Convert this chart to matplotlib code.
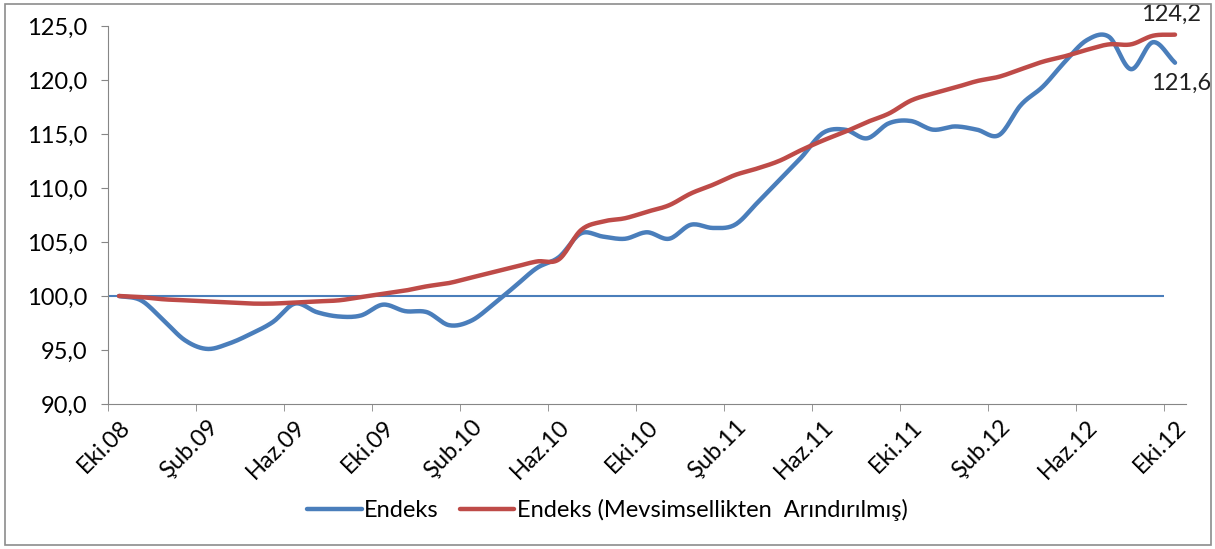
import matplotlib
matplotlib.use('Agg')
import matplotlib.pyplot as plt
from matplotlib.patches import Rectangle
import numpy as np

# monthly index values, Eki.08 .. Eki.12
endeks = [100.0, 99.6, 97.8, 95.9, 95.1, 95.6, 96.5, 97.6, 99.3, 98.5, 98.1, 98.2,
          99.2, 98.6, 98.5, 97.3, 97.7, 99.2, 100.9, 102.6, 103.6, 105.8, 105.5, 105.3,
          105.9, 105.3, 106.6, 106.3, 106.6, 108.6, 110.7, 112.8, 115.1, 115.4, 114.6, 116.0,
          116.2, 115.4, 115.7, 115.4, 114.9, 117.7, 119.4, 121.7, 123.7, 124.0, 121.0, 123.5,
          121.6]
mevsim = [100.0, 99.9, 99.7, 99.6, 99.5, 99.4, 99.3, 99.3, 99.4, 99.5, 99.6, 99.9,
          100.2, 100.5, 100.9, 101.2, 101.7, 102.2, 102.7, 103.2, 103.4, 106.1, 106.9, 107.2,
          107.8, 108.4, 109.5, 110.3, 111.2, 111.8, 112.5, 113.5, 114.4, 115.2, 116.1, 116.9,
          118.1, 118.75, 119.3, 119.9, 120.3, 121.0, 121.7, 122.2, 122.8, 123.3, 123.3, 124.1,
          124.2]
tick_labels = ['Eki.08', 'Şub.09', 'Haz.09', 'Eki.09', 'Şub.10', 'Haz.10', 'Eki.10',
               'Şub.11', 'Haz.11', 'Eki.11', 'Şub.12', 'Haz.12', 'Eki.12']
base = 100.0

plt.rcParams['font.family'] = ['Lato', 'DejaVu Sans']

blue = '#4A7EBB'
red = '#BE4B48'
grey = '#868686'
fs = 17


def smooth(y, n=16):
    # catmull-rom curve through the points, like excel's smoothed line
    y = np.asarray(y, dtype=float)
    x = np.arange(len(y), dtype=float)
    px = np.concatenate([[2 * x[0] - x[1]], x, [2 * x[-1] - x[-2]]])
    py = np.concatenate([[2 * y[0] - y[1]], y, [2 * y[-1] - y[-2]]])
    xs, ys = [], []
    t = np.linspace(0, 1, n, endpoint=False)
    for i in range(1, len(px) - 2):
        for p, out in ((px, xs), (py, ys)):
            p0, p1, p2, p3 = p[i - 1], p[i], p[i + 1], p[i + 2]
            out.append(0.5 * (2 * p1 + (-p0 + p2) * t + (2 * p0 - 5 * p1 + 4 * p2 - p3) * t ** 2
                              + (-p0 + 3 * p1 - 3 * p2 + p3) * t ** 3))
    xs.append([x[-1]])
    ys.append([y[-1]])
    return np.concatenate(xs), np.concatenate(ys)


fig = plt.figure(figsize=(12.15, 5.49), dpi=100)
fig.patches.append(Rectangle((5 / 1215, 4 / 549), 1206 / 1215, 541 / 549, transform=fig.transFigure,
                             fill=False, edgecolor='#8c8c8c', linewidth=1.2))
ax = fig.add_axes([108 / 1215, 1 - 404 / 549, (1186 - 108) / 1215, (404 - 26) / 549])

n = len(endeks)
ax.hlines(base, -0.5, n - 1.5, color=blue, linewidth=1.5, zorder=2)
sx, sy = smooth(endeks)
ax.plot(sx, sy, color=blue, linewidth=3.2, solid_capstyle='round', label='Endeks', zorder=3)
sx, sy = smooth(mevsim)
ax.plot(sx, sy, color=red, linewidth=3.2, solid_capstyle='round',
        label='Endeks (Mevsimsellikten  Arındırılmış)', zorder=4)

ax.text(n - 1.2, mevsim[-1] + 0.9, '124,2', ha='center', va='bottom', fontsize=fs, color='#222222')
ax.text(n - 0.7, endeks[-1] - 0.9, '121,6', ha='center', va='top', fontsize=fs, color='#222222')

ax.set_xlim(-0.5, n - 0.5)
ax.set_ylim(90, 125)
ax.set_yticks(np.arange(90, 126, 5))
ax.set_yticklabels([f'{v:.1f}'.replace('.', ',') for v in np.arange(90, 126, 5)], fontsize=fs)
ax.set_xticks(np.arange(0, n, 4))
ax.set_xticklabels(tick_labels, rotation=45, ha='right', rotation_mode='anchor', fontsize=fs)
ax.set_xticks(np.arange(-0.5, n - 1, 4), minor=True)
ax.tick_params(axis='x', which='major', length=0, pad=9)
ax.tick_params(axis='x', which='minor', length=5, direction='out', color=grey)
ax.tick_params(axis='y', length=5, direction='out', color=grey, pad=10)

for s in ['top', 'right']:
    ax.spines[s].set_visible(False)
for s in ['left', 'bottom']:
    ax.spines[s].set_color(grey)

fig.legend(loc='center', bbox_to_anchor=(0.5, 1 - 510 / 549), ncol=2, frameon=False,
           fontsize=fs, handlelength=2.3, handletextpad=0.1, columnspacing=0.9)

plt.savefig('out.png', dpi=100)
